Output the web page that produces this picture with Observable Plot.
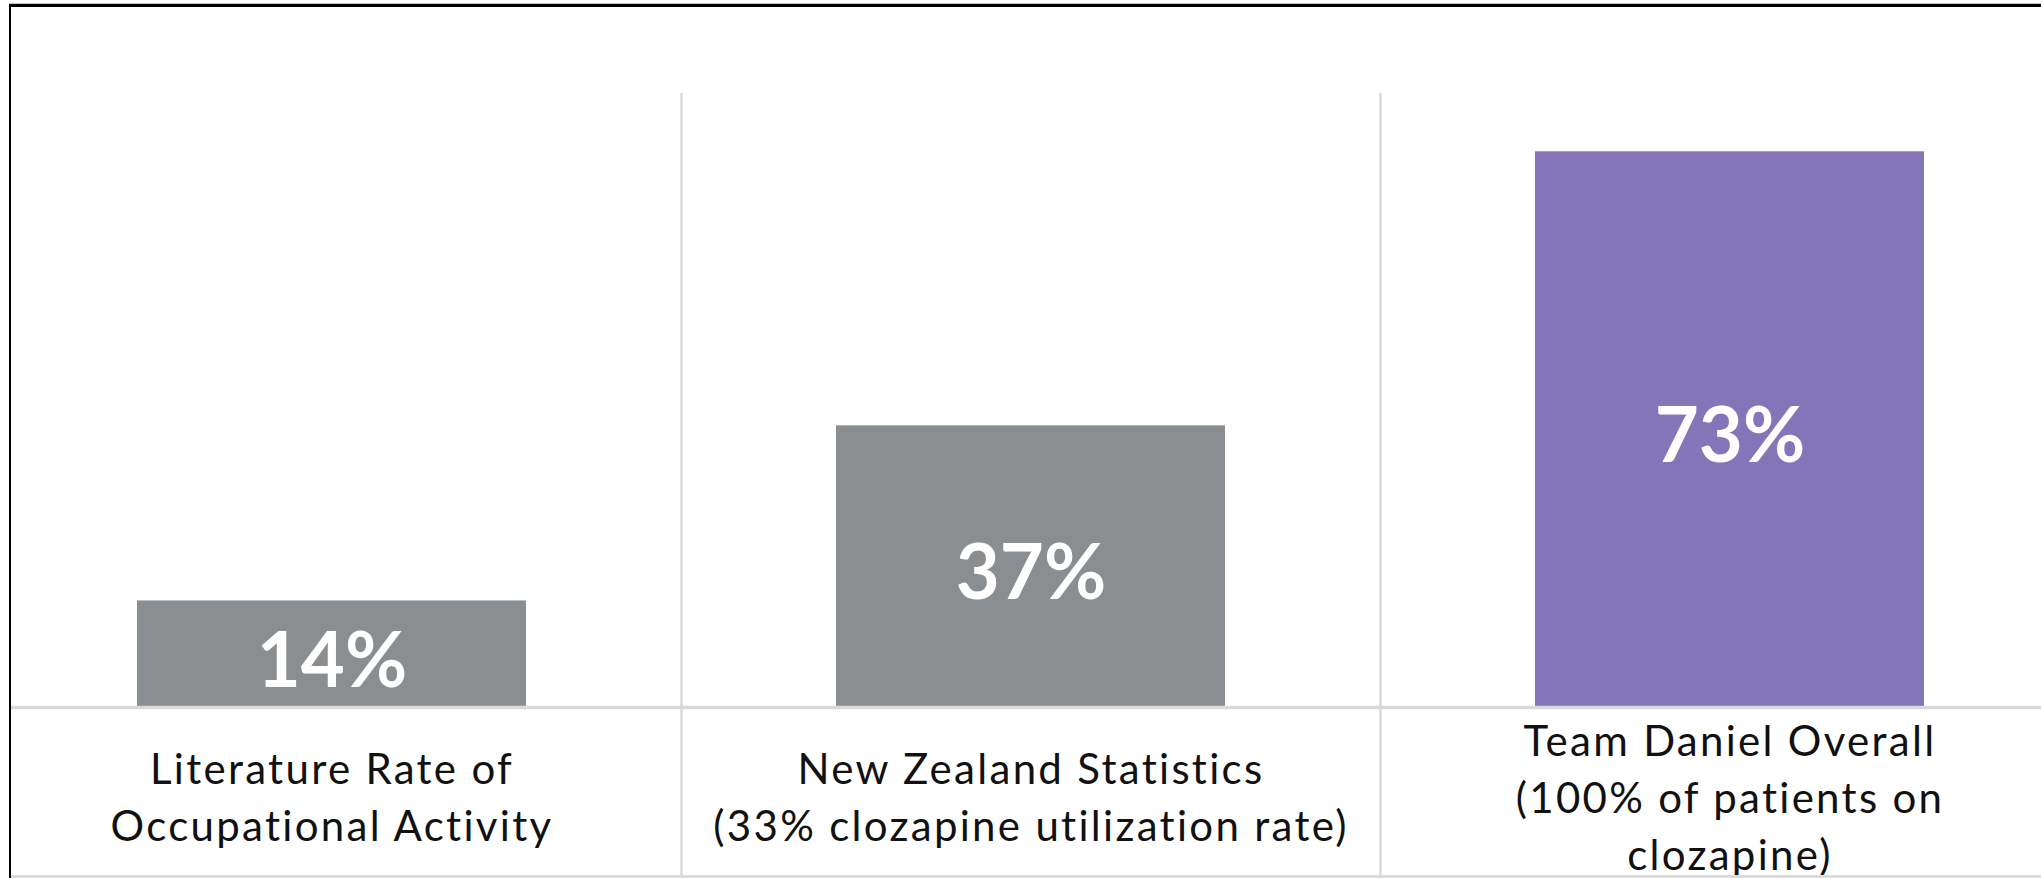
<!DOCTYPE html>
<html>
<head>
<meta charset="utf-8">
<script src="https://cdn.jsdelivr.net/npm/d3@7"></script>
<script src="https://cdn.jsdelivr.net/npm/@observablehq/plot@0.6"></script>
<style>
  html, body { margin: 0; padding: 0; background: #fff; }
  #wrap { position: relative; width: 2041px; height: 878px; overflow: hidden; }
  #wrap svg { display: block; }
  #wrap svg g[aria-label="x-axis tick label"] text { letter-spacing: 2.3px; }
  .edge { position: absolute; }
  .top-gray { left: 9px; right: 0; top: 3px; height: 1px; background: #c8c8c8; }
  .top-black { left: 9px; right: 0; top: 4px; height: 3px; background: #000; }
  .left-black { left: 9px; top: 4px; bottom: 0; width: 2px; background: #000; }
  .bottom-gray { left: 11px; right: 0; bottom: 0; height: 3px; background: #dcdcdc; }
</style>
</head>
<body>
<div id="wrap"></div>
<script>
// Occupational activity rates by group
const categories = [
  "Literature Rate of\nOccupational Activity",
  "New Zealand Statistics\n(33% clozapine utilization rate)",
  "Team Daniel Overall\n(100% of patients on\nclozapine)"
];
const values = [14, 37, 73];
const valueLabels = ["14%", "37%", "73%"];
const barColors = ["#8b8e91", "#8b8e91", "#8474b8"];

const data = categories.map((c, i) => ({
  category: c,
  value: values[i],
  label: valueLabels[i],
  color: barColors[i]
}));

const W = 2041, H = 878;
const xRange = [-18, 2079];
const step = (xRange[1] - xRange[0]) / categories.length;
const labelFont = "Lato, 'Noto Sans', sans-serif";

const chart = Plot.plot({
  width: W,
  height: H,
  marginTop: 98,
  marginBottom: 171,
  marginLeft: 0,
  marginRight: 0,
  style: { background: "transparent", fontFamily: labelFont, overflow: "visible" },
  x: { domain: categories, range: xRange, paddingInner: 0.443, paddingOuter: 0.2215, label: null },
  y: { domain: [0, 80], axis: null },
  marks: [
    // category separators running from the top of the plot down through the label area
    Plot.ruleX(categories.slice(0, -1), {
      x: d => d, dx: step / 2, stroke: "#d9d9d9", strokeWidth: 2.5,
      insetTop: -5, insetBottom: -H
    }),
    Plot.barY(data, { x: "category", y: "value", fill: "color" }),
    Plot.ruleY([0], { stroke: "#d9d9d9", strokeWidth: 3.5, insetLeft: 11 }),
    Plot.text(data, {
      x: "category", y: d => d.value / 2, text: "label",
      fill: "#fff", fontSize: 76, fontWeight: "bold", dy: 8,
      fontFamily: labelFont
    }),
    Plot.axisX({
      tickSize: 0, tickPadding: 87, lineAnchor: "middle",
      fontSize: 42, fill: "#111", lineHeight: 1.36, fontFamily: labelFont
    })
  ]
});

const wrap = document.getElementById("wrap");
wrap.appendChild(chart);
for (const cls of ["top-gray", "top-black", "left-black", "bottom-gray"]) {
  const d = document.createElement("div");
  d.className = "edge " + cls;
  wrap.appendChild(d);
}
</script>
</body>
</html>
